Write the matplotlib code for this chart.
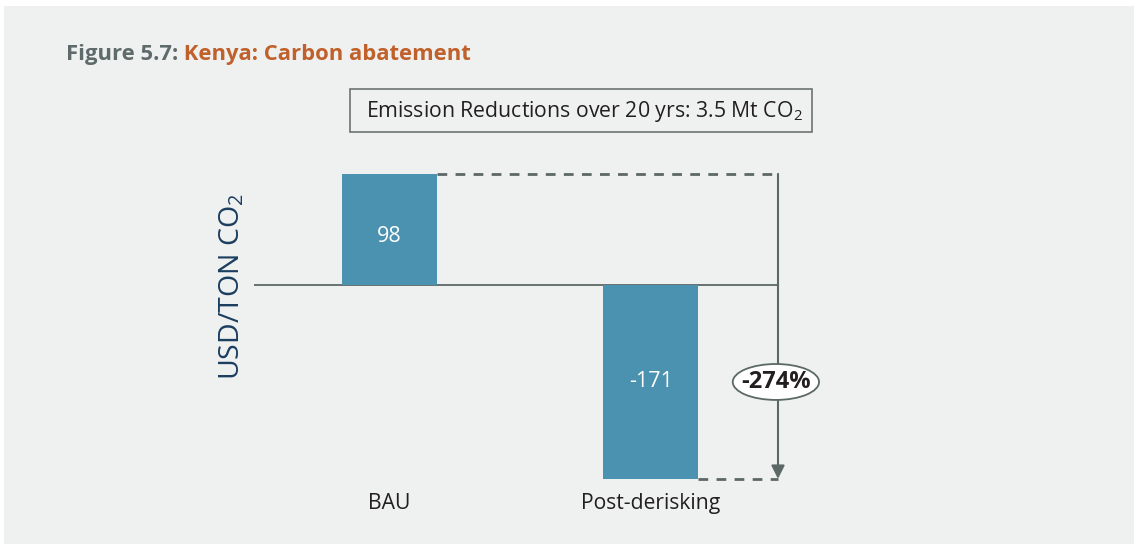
"""Kenya carbon abatement: BAU vs post-derisking cost per ton CO2."""
import matplotlib

matplotlib.use("Agg")
import matplotlib.pyplot as plt
from matplotlib.patches import Ellipse, Rectangle

categories = ["BAU", "Post-derisking"]
values = [98, -171]
change_label = "-274%"
box_text = "Emission Reductions over 20 yrs: 3.5 Mt CO$_2$"
y_label = "USD/TON CO$_2$"

BG = "#eff1f0"
BAR = "#4a92b0"
LINE = "#5c6866"
W, H = 1134, 544

plt.rcParams.update({
    "font.family": ["Open Sans", "DejaVu Sans"],
    "mathtext.fontset": "custom",
    "mathtext.rm": "Open Sans",
    "mathtext.it": "Open Sans",
    "mathtext.bf": "Open Sans:bold",
})

fig = plt.figure(figsize=(W / 100, H / 100), dpi=100, facecolor="white")
fig.patches.append(Rectangle((4 / W, 0), 1 - 4 / W, 1 - 6 / H,
                             transform=fig.transFigure, facecolor=BG,
                             edgecolor="none", zorder=-10))

# title: grey figure number, orange caption right after it
t1 = fig.text(66 / W, 1 - 60 / H, "Figure 5.7:", color="#5f6b6b",
              fontsize=15.8, fontweight="bold", va="baseline")
fig.text(0, 0, "")  # placeholder so annotate below has a figure-level home
t2 = matplotlib.text.Annotation(" Kenya: Carbon abatement", xy=(1, 0),
                                xycoords=t1, va="bottom", ha="left",
                                color="#c0602b", fontsize=15.8,
                                fontweight="bold")
t2.set_figure(fig)
fig.texts.append(t2)

# subtitle box
fig.patches.append(Rectangle((350 / W, 1 - 132 / H), 462 / W, 43 / H,
                             transform=fig.transFigure, facecolor=BG,
                             edgecolor="#6b7472", linewidth=1.2))
fig.text(584 / W, 1 - 111 / H, box_text, ha="center", va="center",
         fontsize=15.3, color="#231f20")

ax = fig.add_axes([254 / W, 0.1009, 524 / W, 0.6044])
ax.set_facecolor("none")
ax.set_xlim(-0.518, 1.486)
ax.set_ylim(-180, 110)
for s in ax.spines.values():
    s.set_visible(False)
ax.set_xticks([])
ax.set_yticks([])

x = list(range(len(categories)))
bw = 0.363
ax.bar(x, values, width=bw, color=BAR, zorder=2)
ax.axhline(0, color=LINE, linewidth=1.3, zorder=1)

for xi, v, cat in zip(x, values, categories):
    ax.annotate(f"{v}", (xi, v / 2), xytext=(0, -5 if v > 0 else 0),
                textcoords="offset points", ha="center", va="center",
                color="white", fontsize=15.5, zorder=3)
    ax.text(xi, -193, cat, ha="center", va="center", fontsize=15.2,
            color="#231f20", clip_on=False)

xa = 1.486
ax.plot([x[0] + bw / 2, xa], [values[0], values[0]], color=LINE,
        linewidth=2, dashes=(3.5, 3), clip_on=False)
ax.plot([x[1] + bw / 2, xa], [values[1], values[1]], color=LINE,
        linewidth=2, dashes=(3.5, 3), clip_on=False)
ax.annotate("", xy=(xa, values[1]), xytext=(xa, values[0]),
            arrowprops=dict(arrowstyle="-|>,head_length=0.8,head_width=0.4",
                            color=LINE, linewidth=1.5, shrinkA=0, shrinkB=0),
            annotation_clip=False)
mid = values[1] / 2
ax.add_patch(Ellipse((xa - 0.008, mid), 0.33, 31.7, facecolor="white",
                     edgecolor=LINE, linewidth=1.3, zorder=4, clip_on=False))
ax.text(xa - 0.008, mid, change_label, ha="center", va="center",
        fontsize=17, fontweight="bold", color="#231f20", zorder=5)

fig.text(232 / W, 1 - 287 / H, y_label, rotation=90, ha="center",
         va="center", fontsize=20.5, color="#1b3d5f")

fig.savefig("out.png", dpi=100, facecolor=fig.get_facecolor())
